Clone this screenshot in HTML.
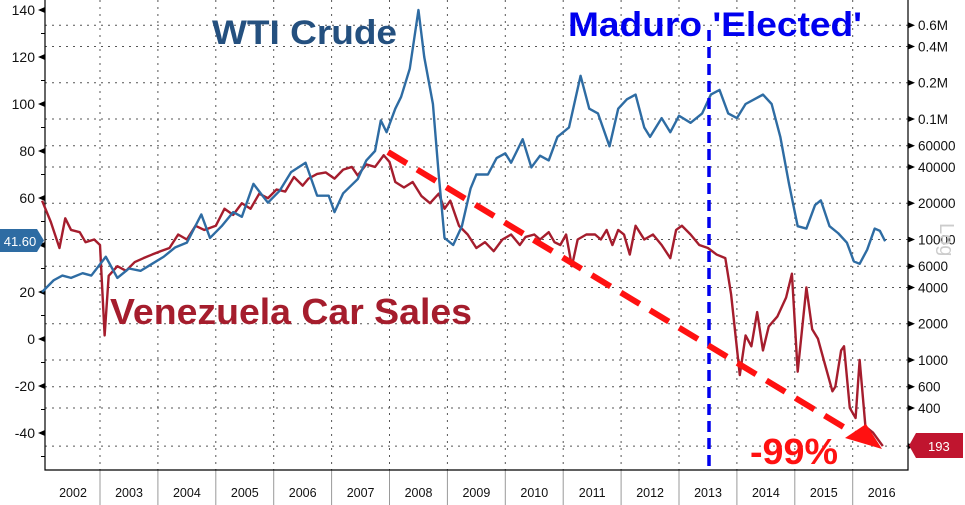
<!DOCTYPE html>
<html><head><meta charset="utf-8"><style>
body{margin:0;background:#fff;}
svg{display:block;font-family:"Liberation Sans",sans-serif;}
</style></head><body>
<svg id="chart" width="965" height="505" viewBox="0 0 965 505" xmlns="http://www.w3.org/2000/svg">
<g id="grid"></g>
<g id="axes"></g>
<g id="series"></g>
<g id="annot"></g>
</svg>
<script>
const yearLabels=["2002","2003","2004","2005","2006","2007","2008","2009","2010","2011","2012","2013","2014","2015","2016"];
const leftTicks=[140,120,100,80,60,40,20,0,-20,-40];
const rightTicks=[600000,400000,200000,100000,60000,40000,20000,10000,6000,4000,2000,1000,600,400,193];
const rightTickLabels=["0.6M","0.4M","0.2M","0.1M","60000","40000","20000","10000","6000","4000","2000","1000","600","400",""];
const wtiDates=[2002.0,2002.2,2002.35,2002.5,2002.7,2002.85,2003.1,2003.3,2003.5,2003.7,2003.9,2004.1,2004.3,2004.5,2004.75,2004.9,2005.1,2005.3,2005.45,2005.65,2005.9,2006.1,2006.3,2006.55,2006.75,2006.95,2007.05,2007.2,2007.45,2007.6,2007.75,2007.85,2007.95,2008.1,2008.2,2008.35,2008.5,2008.6,2008.75,2008.85,2008.95,2009.1,2009.25,2009.4,2009.5,2009.7,2009.85,2010.0,2010.1,2010.3,2010.45,2010.6,2010.75,2010.9,2011.1,2011.3,2011.45,2011.6,2011.8,2011.95,2012.1,2012.25,2012.4,2012.5,2012.7,2012.85,2013.0,2013.2,2013.4,2013.55,2013.7,2013.85,2014.0,2014.15,2014.3,2014.45,2014.6,2014.75,2014.9,2015.05,2015.2,2015.35,2015.45,2015.6,2015.75,2015.9,2016.02,2016.12,2016.25,2016.38,2016.47,2016.56];
const wtiValues=[20,25,27,26,28,27,35,26,30,29,32,35,39,41,53,43,48,54,52,66,58,63,71,75,61,61,54,62,68,76,80,93,88,98,103,115,140,120,100,70,43,40,48,64,70,70,77,79,75,85,73,78,76,86,90,112,98,96,82,98,102,104,90,86,94,88,95,92,96,104,106,96,94,100,102,104,100,86,66,48,47,57,59,48,45,41,33,32,38,47,46,41.6];
const carDates=[2002.0,2002.15,2002.3,2002.4,2002.5,2002.65,2002.75,2002.9,2003.0,2003.08,2003.15,2003.3,2003.45,2003.6,2003.75,2003.9,2004.05,2004.2,2004.35,2004.5,2004.65,2004.8,2005.0,2005.15,2005.3,2005.45,2005.6,2005.75,2005.9,2006.05,2006.2,2006.35,2006.5,2006.6,2006.75,2006.9,2007.05,2007.2,2007.35,2007.45,2007.6,2007.75,2007.9,2008.0,2008.1,2008.25,2008.4,2008.55,2008.7,2008.85,2008.95,2009.05,2009.2,2009.35,2009.5,2009.65,2009.8,2009.95,2010.1,2010.25,2010.35,2010.5,2010.6,2010.75,2010.85,2010.95,2011.05,2011.15,2011.25,2011.4,2011.55,2011.65,2011.75,2011.85,2011.95,2012.05,2012.15,2012.25,2012.4,2012.55,2012.7,2012.85,2012.95,2013.05,2013.2,2013.35,2013.5,2013.65,2013.8,2013.9,2014.05,2014.15,2014.25,2014.35,2014.45,2014.55,2014.7,2014.85,2014.95,2015.05,2015.2,2015.3,2015.4,2015.5,2015.65,2015.7,2015.8,2015.85,2015.95,2016.05,2016.12,2016.22,2016.35,2016.52];
const carValues=[21000,14000,8500,15000,12000,11500,9500,10000,9000,1600,5000,6000,5500,6500,7000,7500,8000,8500,11000,10000,13000,12000,13000,18000,16000,20000,18000,24000,22000,26000,25000,33000,28000,32000,35000,36000,32000,38000,40000,34000,42000,40000,50000,44000,30000,27000,30000,23000,20000,24000,18000,21000,13000,11000,8500,9500,8000,10000,11000,9000,10500,11000,10000,11500,9500,9000,11000,6000,10000,11000,11000,10000,12000,9000,12000,11000,7500,13000,10000,11000,9000,7000,12000,13000,11000,9000,8500,7500,7000,3500,750,1600,1300,2500,1200,1900,2300,3300,5200,800,4000,1800,1500,1000,550,600,1200,1300,400,330,1000,280,250,193];

const NS="http://www.w3.org/2000/svg";
const L=45,R=908,T=0,B=470;
const xT=t=>100+(t-2003)*57.9;
const yL=v=>339-v*2.35;
const yR=v=>119+(5-Math.log10(v))*120.5;
function mk(tag,attrs,parent){const e=document.createElementNS(NS,tag);for(const k in attrs)e.setAttribute(k,attrs[k]);parent.appendChild(e);return e;}
const grid=document.getElementById('grid'),axes=document.getElementById('axes'),series=document.getElementById('series'),annot=document.getElementById('annot');

rightTicks.forEach((v,i)=>{
  const g=mk('line',{x1:L,x2:R,y1:yR(v),y2:yR(v),stroke:'#555','stroke-width':1,'stroke-dasharray':'2,5'},grid);
  
  
  const tk=mk('path',{d:`M${R} ${yR(v)-3}L${R+7} ${yR(v)}L${R} ${yR(v)+3}Z`,fill:'#000'},axes);
  
  
  if(rightTickLabels[i]){
    const t=mk('text',{x:R+10,y:yR(v)+5,'font-size':13.5,fill:'#111'},axes);t.textContent=rightTickLabels[i];
    
    
  }
});
yearLabels.forEach((y,i)=>{
  const yr=+y;
  if(i>0){
    const g=mk('line',{x1:xT(yr),x2:xT(yr),y1:T,y2:B,stroke:'#555','stroke-width':1,'stroke-dasharray':'2,5'},grid);
    
    
    const s=mk('line',{x1:xT(yr),x2:xT(yr),y1:B,y2:505,stroke:'#999','stroke-width':1},axes);
    
    
  }
  const t=mk('text',{x:Math.max(xT(yr)+29,73),y:497,'font-size':12.5,fill:'#111','text-anchor':'middle'},axes);t.textContent=y;
  
  
});
leftTicks.forEach(v=>{
  const tk=mk('path',{d:`M${L} ${yL(v)-3}L${L-7} ${yL(v)}L${L} ${yL(v)+3}Z`,fill:'#000'},axes);
  
  
  const t=mk('text',{x:L-10,y:yL(v)+5,'font-size':14,fill:'#111','text-anchor':'end'},axes);t.textContent=v;
  
  
});
for(let v=130;v>=-50;v-=20){const m=mk('line',{x1:L-4,x2:L,y1:yL(v),y2:yL(v),stroke:'#000'},axes);
  
  }
const ax=mk('path',{d:`M${L} 0V${B}H${R}V0`,fill:'none',stroke:'#000','stroke-width':1.2},axes);



const car=mk('polyline',{points:carDates.map((t,i)=>xT(t)+','+yR(carValues[i])).join(' '),fill:'none',stroke:'#a51d2d','stroke-width':2.4,'stroke-linejoin':'round'},series);


const wti=mk('polyline',{points:wtiDates.map((t,i)=>xT(t)+','+yL(wtiValues[i])).join(' '),fill:'none',stroke:'#2e6ca3','stroke-width':2.4,'stroke-linejoin':'round'},series);



const mad=mk('line',{x1:709,x2:709,y1:30,y2:468,stroke:'#0000ee','stroke-width':3.5,'stroke-dasharray':'11,6'},annot);


const arr=mk('line',{x1:388,y1:152,x2:860,y2:437,stroke:'#ff1111','stroke-width':6,'stroke-dasharray':'22,12'},annot);


const ah=mk('path',{d:'M845 438L882 449L866 424Z',fill:'#ff1111'},annot);


function txt(s,a,name){const t=mk('text',a,annot);t.textContent=s;return t;}
txt('WTI Crude',{x:212,y:44,'font-size':34,'font-weight':'bold',fill:'#24507f',textLength:185,lengthAdjust:'spacingAndGlyphs'},'wti-label');
txt("Maduro 'Elected'",{x:568,y:36,'font-size':34,'font-weight':'bold',fill:'#0000ee',textLength:294,lengthAdjust:'spacingAndGlyphs'},'maduro-label');
txt('Venezuela Car Sales',{x:110,y:324,'font-size':36,'font-weight':'bold',fill:'#a51d2d',textLength:362,lengthAdjust:'spacingAndGlyphs'},'car-sales-label');
txt('-99%',{x:750,y:464,'font-size':36,'font-weight':'bold',fill:'#ff1111',textLength:88,lengthAdjust:'spacingAndGlyphs'},'pct-label');
txt('Log',{x:0,y:0,'font-size':20,fill:'#ccc',transform:'translate(940,223) rotate(90)'},'log-label');
const lt=mk('path',{d:'M0 229H37L44 240.5L37 252H0Z',fill:'#2e6ca3'},annot);


txt('41.60',{x:20,y:246,'font-size':13,fill:'#fff','text-anchor':'middle'},'wti-last-value');
const rt=mk('path',{d:'M916 433H963V458H916L909 445.5Z',fill:'#c0152f'},annot);


txt('193',{x:928,y:451,'font-size':13,fill:'#fff'},'car-last-value');
</script>
</body></html>
